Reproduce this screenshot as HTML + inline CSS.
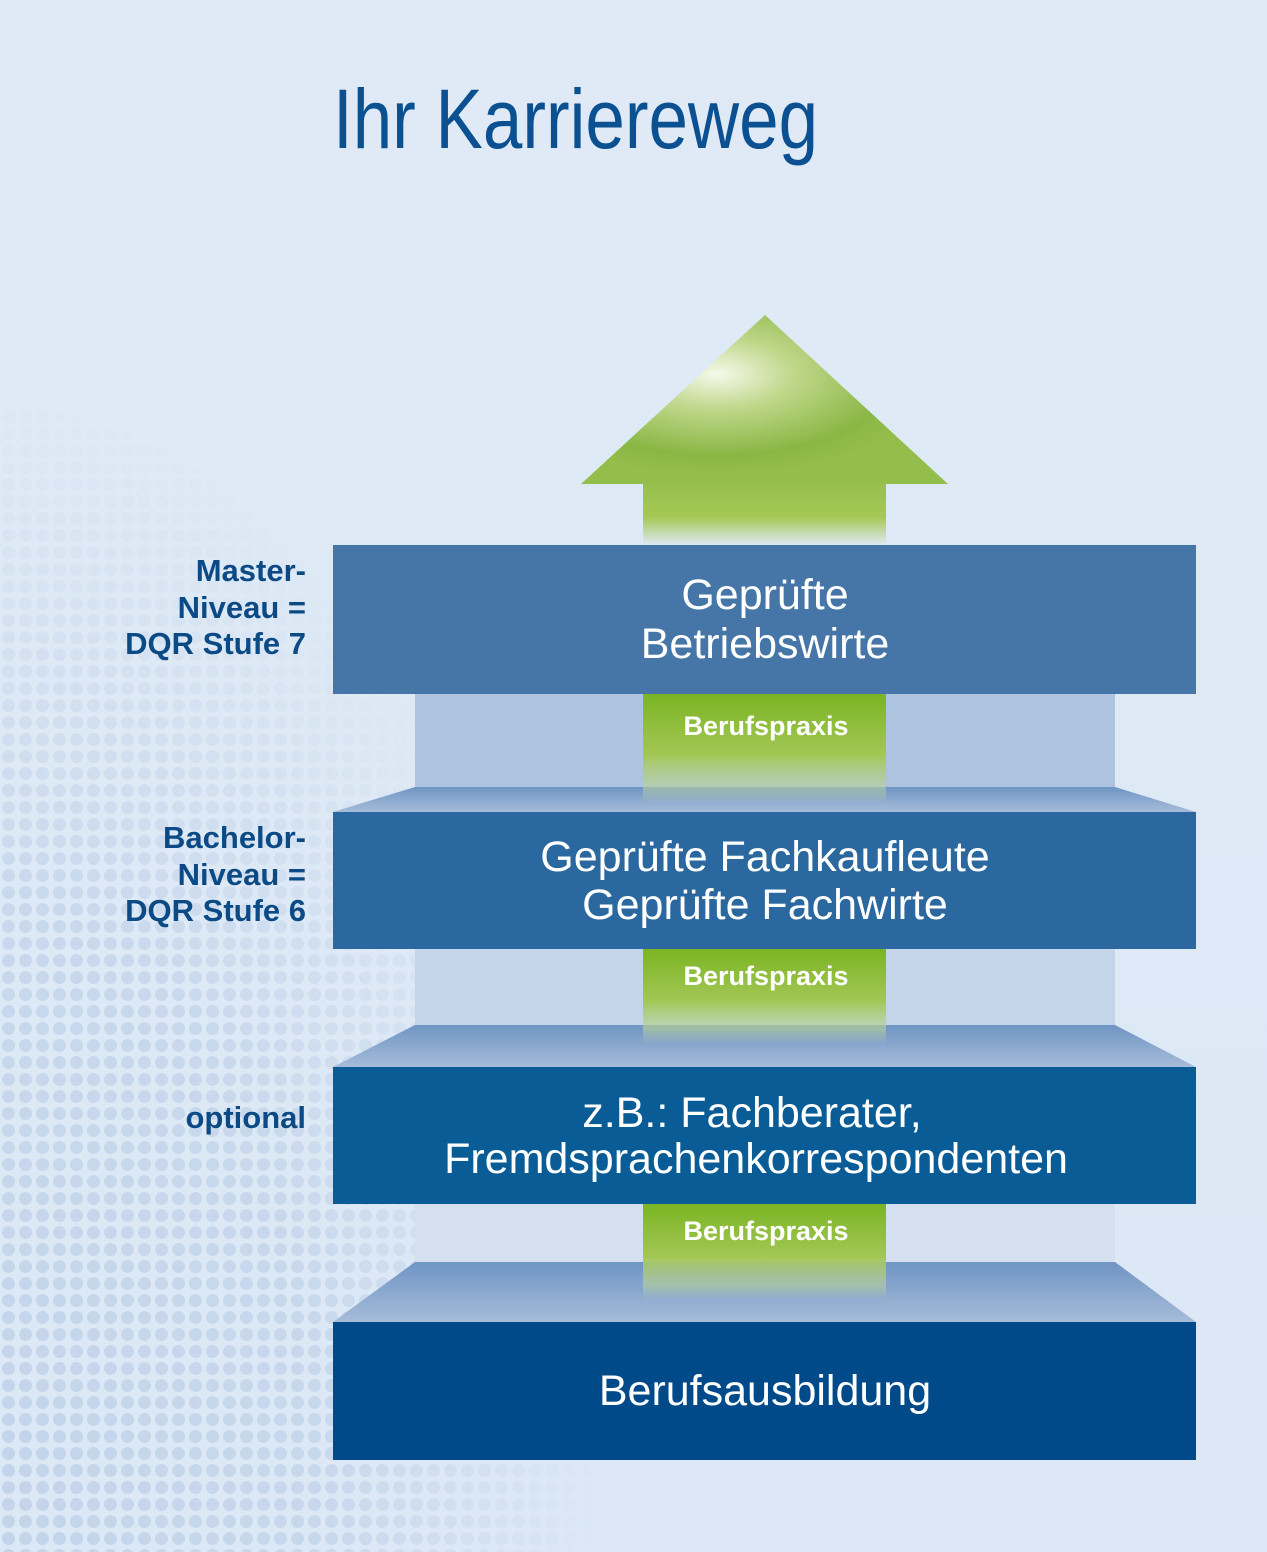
<!DOCTYPE html>
<html><head><meta charset="utf-8"><style>
html,body{margin:0;padding:0;}
body{width:1267px;height:1552px;overflow:hidden;background:#dde9f6;}
svg{display:block;}
</style></head><body>
<svg width="1267" height="1552" viewBox="0 0 1267 1552" xmlns="http://www.w3.org/2000/svg">
<defs>
<linearGradient id="bg" x1="0" y1="0" x2="0" y2="1">
<stop offset="0" stop-color="#dfeaf6"/><stop offset="1" stop-color="#dce8f5"/>
</linearGradient>
<pattern id="dots" width="17" height="17" patternUnits="userSpaceOnUse">
<circle cx="8.5" cy="8.5" r="6.5" fill="#c3d4ea"/>
</pattern>
<radialGradient id="fadeMask" cx="0" cy="1" r="1">
<stop offset="0" stop-color="#fff" stop-opacity="1"/>
<stop offset="0.55" stop-color="#fff" stop-opacity="0.8"/>
<stop offset="1" stop-color="#fff" stop-opacity="0"/>
</radialGradient>
<mask id="m"><rect x="0" y="400" width="600" height="1152" fill="url(#fadeMask)"/></mask>
<radialGradient id="ahead" cx="0.37" cy="0.35" r="0.6">
<stop offset="0" stop-color="#f6f9ea"/>
<stop offset="0.35" stop-color="#bfd78a"/>
<stop offset="0.8" stop-color="#8ab744"/>
<stop offset="1" stop-color="#94be4c"/>
</radialGradient>
<linearGradient id="shaft" x1="0" y1="0" x2="0" y2="1">
<stop offset="0" stop-color="#96bf4c"/><stop offset="0.55" stop-color="#a5c854"/><stop offset="1" stop-color="#a5c854" stop-opacity="0"/>
</linearGradient>
<linearGradient id="strip" x1="0" y1="0" x2="0" y2="1">
<stop offset="0" stop-color="#7ab423"/><stop offset="0.55" stop-color="#a3c755"/><stop offset="0.85" stop-color="#b9d29a" stop-opacity="0.6"/><stop offset="1" stop-color="#b9d29a" stop-opacity="0"/>
</linearGradient>
<linearGradient id="trap" x1="0" y1="0" x2="0" y2="1">
<stop offset="0" stop-color="#6f95c3"/><stop offset="1" stop-color="#a6bcda"/>
</linearGradient>
</defs>
<rect width="1267" height="1552" fill="url(#bg)"/>
<rect x="0" y="400" width="600" height="1152" fill="url(#dots)" mask="url(#m)"/>

<text x="333" y="148" font-family="Liberation Sans, sans-serif" font-size="84" fill="#0b5091" transform="translate(333,0) scale(0.845,1) translate(-333,0)">Ihr Karriereweg</text>

<polygon points="765,315 948,484 581,484" fill="url(#ahead)"/>
<rect x="643" y="483" width="243" height="62" fill="url(#shaft)"/>

<rect x="415" y="694" width="700" height="94" fill="#adc3df"/>
<polygon points="415,787 1115,787 1196,812 333,812" fill="url(#trap)"/>
<rect x="643" y="694" width="243" height="110" fill="url(#strip)"/>
<rect x="415" y="949" width="700" height="77" fill="#c4d5ea"/>
<polygon points="415,1025 1115,1025 1196,1067 333,1067" fill="url(#trap)"/>
<rect x="643" y="949" width="243" height="95" fill="url(#strip)"/>
<rect x="415" y="1204" width="700" height="59" fill="#d4e0f0"/>
<polygon points="415,1262 1115,1262 1196,1322 333,1322" fill="url(#trap)"/>
<rect x="643" y="1204" width="243" height="96" fill="url(#strip)"/>

<rect x="333" y="545" width="863" height="149" fill="#4676a8"/>
<rect x="333" y="812" width="863" height="137" fill="#2a689f"/>
<rect x="333" y="1067" width="863" height="137" fill="#0a5c96"/>
<rect x="333" y="1322" width="863" height="138" fill="#004a8a"/>

<g font-family="Liberation Sans, sans-serif" font-size="43" fill="#fff" text-anchor="middle">
<text x="765" y="609">Geprüfte</text>
<text x="765" y="658">Betriebswirte</text>
<text x="765" y="871">Geprüfte Fachkaufleute</text>
<text x="765" y="919">Geprüfte Fachwirte</text>
<text x="752" y="1127">z.B.: Fachberater,</text>
<text x="756" y="1173">Fremdsprachenkorrespondenten</text>
<text x="765" y="1405">Berufsausbildung</text>
</g>
<g font-family="Liberation Sans, sans-serif" font-size="27" font-weight="bold" fill="#fff" text-anchor="middle">
<text x="766" y="735">Berufspraxis</text>
<text x="766" y="985">Berufspraxis</text>
<text x="766" y="1240">Berufspraxis</text>
</g>
<g font-family="Liberation Sans, sans-serif" font-size="31" font-weight="bold" fill="#0c4a85" text-anchor="end">
<text x="306" y="581">Master-</text>
<text x="306" y="618">Niveau =</text>
<text x="306" y="654">DQR Stufe 7</text>
<text x="306" y="848">Bachelor-</text>
<text x="306" y="885">Niveau =</text>
<text x="306" y="921">DQR Stufe 6</text>
<text x="306" y="1128">optional</text>
</g>
</svg>
</body></html>
